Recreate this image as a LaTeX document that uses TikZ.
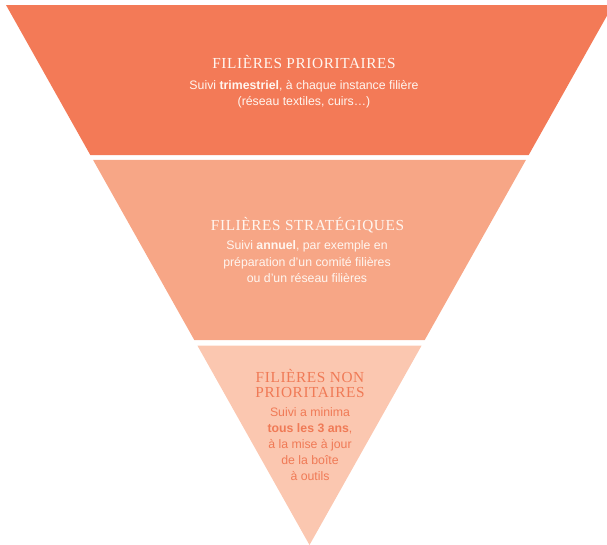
\documentclass[tikz,border=0pt]{standalone}
\usepackage{fontspec}
\setmainfont{Liberation Sans}
\newfontfamily\titlefont[LetterSpace=4]{Liberation Serif}
\usetikzlibrary{calc,positioning}

\definecolor{bandone}{RGB}{243,122,87}
\definecolor{bandtwo}{RGB}{247,166,134}
\definecolor{bandthree}{RGB}{251,199,176}
\definecolor{coraltext}{RGB}{240,122,86}
\definecolor{paletext}{RGB}{255,246,240}

\begin{document}
\begin{tikzpicture}[
  x=1pt, y=-1pt,
  band/.style={draw=none},
  level/.style={font=\titlefont\fontsize{15.3}{14.5}\selectfont, inner sep=0pt, align=center},
  note/.style={font=\fontsize{12.3}{16.4}\selectfont, inner sep=0pt, align=center, anchor=north}
]
\useasboundingbox (0,0) rectangle (607,544);
\clip (0,0) rectangle (607,544);

% outline of the funnel
\coordinate (tl) at (6,5);
\coordinate (tr) at (613,5);
\coordinate (apex) at (309.5,545);

% the three levels
\fill[band, bandone] (tl) -- (tr) -- ($(tr)!0.2778!(apex)$) -- ($(tl)!0.2778!(apex)$) -- cycle;
\fill[band, bandtwo] ($(tl)!0.2870!(apex)$) -- ($(tr)!0.2870!(apex)$) -- ($(tr)!0.6204!(apex)$) -- ($(tl)!0.6204!(apex)$) -- cycle;
\fill[band, bandthree] ($(tl)!0.6306!(apex)$) -- ($(tr)!0.6306!(apex)$) -- (apex) -- cycle;

% level 1
\node[level, anchor=base, text=paletext] (prio) at (304,68.5) {FILIÈRES PRIORITAIRES};
\node[note, text=paletext] (prionote) at (304,80)
  {Suivi \textbf{trimestriel}, à chaque instance filière\\(réseau textiles, cuirs…)};

% level 2
\node[level, anchor=base, text=paletext] (strat) at (307.5,230) {FILIÈRES STRATÉGIQUES};
\node[note, text=paletext] (stratnote) at (307,240.5)
  {Suivi \textbf{annuel}, par exemple en\\préparation d’un comité filières\\ou d’un réseau filières};

% level 3
\node[level, anchor=south, text=coraltext] (nonprio) at (310,397.5) {FILIÈRES NON\\PRIORITAIRES};
\node[note, text=coraltext, font=\fontsize{12.3}{15.9}\selectfont] (nonprionote) at (310,407.5)
  {Suivi a minima\\\textbf{tous les 3 ans},\\à la mise à jour\\de la boîte\\à outils};

\end{tikzpicture}
\end{document}
